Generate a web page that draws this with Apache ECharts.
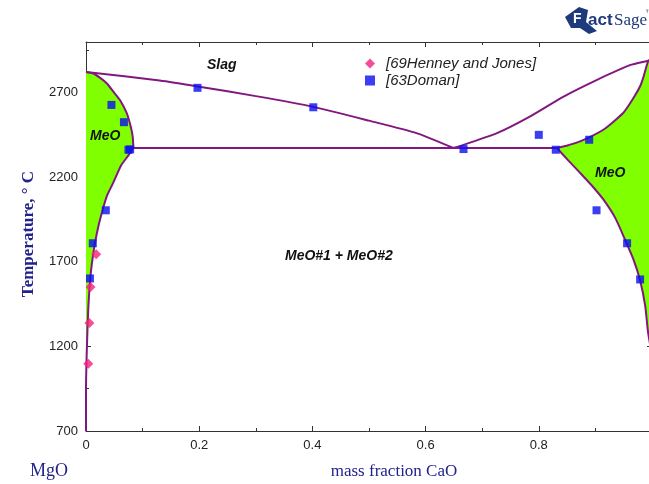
<!DOCTYPE html>
<html>
<head>
<meta charset="utf-8">
<script src="https://cdn.jsdelivr.net/npm/echarts@6/dist/echarts.min.js"></script>
<style>
  html, body { margin: 0; padding: 0; background: #fff; }
  #chart { width: 649px; height: 484px; }
</style>
</head>
<body>
<div id="chart"></div>
<script>
// MgO–CaO phase diagram: temperature (°C) versus mass fraction CaO

// Liquidus, MgO side down to the eutectic
const liquidusLeft = [[0, 2823], [0.13, 2772], [0.2, 2736], [0.3, 2680], [0.4, 2618], [0.5, 2535], [0.584, 2461], [0.649, 2373]];
// Liquidus, eutectic up to the CaO melting point
const liquidusRight = [[0.649, 2373], [0.667, 2392], [0.726, 2461], [0.784, 2559], [0.843, 2676], [0.902, 2775], [0.961, 2863], [0.9935, 2889], [1, 2896]];
// MgO-rich solid solution: solidus then solvus
const solidusLeft = [[0, 2823], [0.013, 2814], [0.025, 2788], [0.037, 2755], [0.048, 2708], [0.060, 2657], [0.072, 2579], [0.079, 2500], [0.0825, 2441], [0.0838, 2373]];
const solvusLeft = [[0.0838, 2373], [0.075, 2330], [0.062, 2270], [0.048, 2167], [0.037, 2090], [0.028, 1991], [0.022, 1912], [0.016, 1814], [0.012, 1730], [0.008, 1618], [0.004, 1422], [0.0015, 1186], [0, 950], [0, 700]];
// CaO-rich solid solution: solidus then solvus
const solidusRight = [[1, 2896], [0.9935, 2889], [0.985, 2794], [0.979, 2738], [0.965, 2657], [0.949, 2580], [0.914, 2481], [0.873, 2412], [0.852, 2390], [0.832, 2373]];
const solvusRight = [[0.832, 2373], [0.852, 2300], [0.873, 2226], [0.894, 2150], [0.914, 2069], [0.935, 1960], [0.952, 1834], [0.967, 1716], [0.979, 1590], [0.988, 1440], [0.993, 1284], [1, 1150]];
// Eutectic isotherm
const eutectic = [[0.0838, 2373], [0.832, 2373]];

// Experimental data
const henneyJones = [[0.018, 1745], [0.008, 1552], [0.006, 1338], [0.004, 1097]];
const doman = [[0.045, 2628], [0.067, 2526], [0.075, 2363], [0.078, 2365], [0.197, 2729], [0.4016, 2614], [0.035, 2005], [0.012, 1810], [0.007, 1602],
               [0.667, 2367], [0.800, 2451], [0.889, 2422], [0.830, 2363], [0.902, 2005], [0.956, 1810], [0.979, 1596]];

// Axis ticks
const xTickValues = [0, 0.2, 0.4, 0.6, 0.8, 1];
const yTickValues = [700, 1200, 1700, 2200, 2700];

const LINE = '#80187f';
const GREEN = '#7fff00';
const NAVY = '#22228c';
const LOGO = '#1d3a7c';

function fillSeries(points) {
  return {
    type: 'custom',
    coordinateSystem: 'cartesian2d',
    silent: true,
    z: 1,
    data: [0],
    renderItem: (params, api) => ({
      type: 'polygon',
      shape: { points: points.map(p => api.coord(p)) },
      style: { fill: GREEN, stroke: null }
    })
  };
}

function boundary(data) {
  return {
    type: 'line',
    data: data,
    smooth: 0.2,
    symbol: 'none',
    clip: false,
    silent: true,
    z: 3,
    lineStyle: { color: LINE, width: 2 }
  };
}

const leftRegion = solidusLeft.concat(solvusLeft.slice(1, -1));
const rightRegion = solidusRight.concat(solvusRight.slice(1));

const axisLine = { show: true, lineStyle: { color: '#333', width: 1 } };
const labelFont = { fontFamily: 'Liberation Sans, Arial, sans-serif', fontSize: 13, color: '#222' };
const noteFont = 'italic bold 14px "Liberation Sans", Arial, sans-serif';

const chart = echarts.init(document.getElementById('chart'), null, { renderer: 'canvas' });
chart.setOption({
  animation: false,
  backgroundColor: '#fff',
  grid: { left: 86, top: 42, width: 566, height: 389, outerBoundsMode: 'none', containLabel: false },
  xAxis: [
    {
      type: 'value', position: 'bottom', min: xTickValues[0], max: xTickValues[xTickValues.length - 1], interval: 0.2,
      axisLine: axisLine, splitLine: { show: false },
      axisTick: { inside: true, length: 5, lineStyle: { color: '#333' } },
      minorTick: { show: true, splitNumber: 2, length: 3, lineStyle: { color: '#333' } },
      axisLabel: Object.assign({ margin: 8, formatter: v => String(+v.toFixed(1)) }, labelFont)
    },
    {
      type: 'value', position: 'top', min: 0, max: 1, interval: 0.2,
      axisLine: axisLine, splitLine: { show: false },
      axisTick: { inside: true, length: 5, lineStyle: { color: '#333' } },
      minorTick: { show: true, splitNumber: 2, length: 3, lineStyle: { color: '#333' } },
      axisLabel: { show: false }
    }
  ],
  yAxis: [
    {
      type: 'value', position: 'left', min: yTickValues[0], max: 3000, interval: 500,
      axisLine: axisLine, splitLine: { show: false },
      axisTick: { inside: true, length: 5, lineStyle: { color: '#333' } },
      axisLabel: Object.assign({ margin: 8, formatter: v => (yTickValues.indexOf(v) >= 0 ? String(v) : '') }, labelFont)
    },
    {
      type: 'value', position: 'left', min: 700, max: 3000, interval: 250,
      axisLine: { show: false }, splitLine: { show: false },
      axisTick: { inside: true, length: 3, lineStyle: { color: '#333' } },
      axisLabel: { show: false }
    },
    {
      type: 'value', position: 'right', min: 700, max: 3000, interval: 500,
      axisLine: axisLine, splitLine: { show: false },
      axisTick: { inside: true, length: 5, lineStyle: { color: '#333' } },
      axisLabel: { show: false }
    }
  ],
  legend: {
    orient: 'vertical', left: 360, top: 51, itemGap: 2, itemWidth: 10, itemHeight: 10,
    selectedMode: false,
    textStyle: { fontFamily: 'Liberation Sans, Arial, sans-serif', fontStyle: 'italic', fontSize: 15, color: '#222', padding: [0, 0, 0, 6] },
    data: [
      { name: '[69Henney and Jones]', icon: 'diamond' },
      { name: '[63Doman]', icon: 'rect' }
    ]
  },
  series: [
    fillSeries(leftRegion),
    fillSeries(rightRegion),
    boundary(liquidusLeft),
    boundary(liquidusRight),
    boundary(solidusLeft),
    boundary(solvusLeft),
    boundary(solidusRight),
    boundary(solvusRight),
    boundary(eutectic),
    {
      name: '[69Henney and Jones]', type: 'scatter', data: henneyJones, symbol: 'diamond', symbolSize: 10, z: 5,
      itemStyle: { color: '#f5217e' }
    },
    {
      name: '[63Doman]', type: 'scatter', data: doman, symbol: 'rect', symbolSize: 8, z: 5,
      itemStyle: { color: '#0a0ef0' }
    }
  ],
  graphic: [
    { type: 'text', z: 100, left: 207, top: 58, style: { text: 'Slag', font: noteFont, fill: '#111' } },
    { type: 'text', z: 100, left: 90, top: 129, style: { text: 'MeO', font: noteFont, fill: '#111' } },
    { type: 'text', z: 100, left: 595, top: 166, style: { text: 'MeO', font: noteFont, fill: '#111' } },
    { type: 'text', z: 100, left: 285, top: 249, style: { text: 'MeO#1 + MeO#2', font: noteFont, fill: '#111' } },
    {
      type: 'text', z: 100, x: 29, y: 234, rotation: Math.PI / 2,
      style: { text: 'Temperature, ° C', font: 'bold 17px "Liberation Serif", "Times New Roman", serif', fill: NAVY, align: 'center', verticalAlign: 'middle' }
    },
    { type: 'text', z: 100, x: 49, y: 471, style: { text: 'MgO', font: '18px "Liberation Serif", "Times New Roman", serif', fill: NAVY, align: 'center', verticalAlign: 'middle' } },
    { type: 'text', z: 100, x: 394, y: 472, style: { text: 'mass fraction CaO', font: '17px "Liberation Serif", "Times New Roman", serif', fill: NAVY, align: 'center', verticalAlign: 'middle' } },
    // FactSage mark
    { type: 'polygon', z: 100, shape: { points: [[565, 17], [579, 7], [588, 10], [586, 22], [597, 31], [589, 34], [580, 28], [571, 28]] }, style: { fill: LOGO } },
    { type: 'text', z: 101, x: 573, y: 19, style: { text: 'F', font: 'bold 14px "Liberation Sans", Arial, sans-serif', fill: '#fff', verticalAlign: 'middle' } },
    { type: 'text', z: 101, x: 588, y: 20, style: { text: 'act', font: 'bold 17px "Liberation Sans", Arial, sans-serif', fill: LOGO, verticalAlign: 'middle' } },
    { type: 'text', z: 101, x: 614, y: 21, style: { text: 'Sage', font: '17px "Liberation Serif", serif', fill: LOGO, verticalAlign: 'middle' } },
    { type: 'text', z: 101, x: 645, y: 13, style: { text: '™', font: '8px "Liberation Sans", Arial, sans-serif', fill: LOGO, verticalAlign: 'middle' } }
  ]
});
</script>
</body>
</html>
